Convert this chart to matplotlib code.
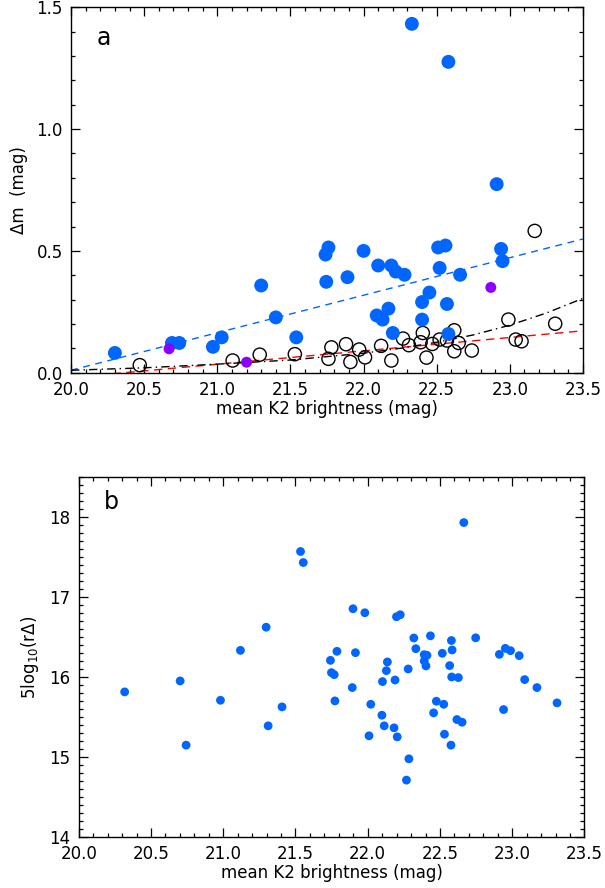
import matplotlib
matplotlib.use("Agg")
import matplotlib.pyplot as plt
from matplotlib.ticker import MultipleLocator, FormatStrFormatter

# ---------------- data: panel a ----------------
blue_x = [20.30, 20.69, 20.74, 20.97, 21.03, 21.30, 21.40, 21.54, 21.74, 21.76,
          21.745, 21.89, 22.00, 22.10, 22.09, 22.13, 22.17, 22.19, 22.22, 22.28,
          22.20, 22.40, 22.40, 22.45, 22.51, 22.56, 22.52, 22.57, 22.58, 22.66,
          22.94, 22.95, 22.91, 22.33, 22.58]
blue_y = [0.081, 0.122, 0.122, 0.106, 0.145, 0.358, 0.227, 0.145, 0.485, 0.514,
          0.373, 0.392, 0.500, 0.440, 0.235, 0.218, 0.263, 0.440, 0.415, 0.402,
          0.163, 0.218, 0.290, 0.329, 0.514, 0.522, 0.430, 0.282, 0.159, 0.402,
          0.508, 0.458, 0.774, 1.432, 1.276]

purple_x = [20.67, 21.20, 22.87]
purple_y = [0.098, 0.043, 0.350]

open_x = [20.47, 21.105, 21.29, 21.53, 21.76, 21.78, 21.88, 21.91, 21.97, 22.01,
          22.12, 22.19, 22.27, 22.31, 22.39, 22.405, 22.43, 22.47, 22.52, 22.57,
          22.62, 22.62, 22.65, 22.74, 22.99, 23.04, 23.08, 23.17, 23.31]
open_y = [0.031, 0.050, 0.074, 0.076, 0.057, 0.104, 0.117, 0.044, 0.095, 0.063,
          0.110, 0.050, 0.140, 0.113, 0.125, 0.163, 0.062, 0.118, 0.136, 0.132,
          0.174, 0.088, 0.122, 0.091, 0.218, 0.136, 0.129, 0.582, 0.201]

# reference curves
blue_line_x = [20.0, 23.5]
blue_line_y = [0.010, 0.549]
red_line_x = [20.0, 23.5]
red_line_y = [-0.020, 0.172]
black_line_x = [20.0, 20.5, 21.0, 21.5, 22.0, 22.25, 22.5, 22.75, 23.0, 23.25, 23.5]
black_line_y = [0.010, 0.020, 0.035, 0.052, 0.080, 0.100, 0.125, 0.155, 0.195, 0.245, 0.305]

# ---------------- data: panel b ----------------
b_x = [22.665, 21.535, 21.554, 21.898, 21.980, 22.199, 22.225,
       21.297, 22.319, 22.434, 22.747, 22.579, 21.119, 21.787, 21.915, 22.333,
       22.391, 22.410, 22.516, 22.584, 22.911, 22.952, 22.988, 23.048, 21.742,
       22.136, 22.391, 22.403, 22.567, 22.280, 22.129, 21.749, 21.768, 22.581,
       22.627, 20.702, 22.102, 22.189, 23.086, 23.171, 21.893, 20.318, 20.981,
       21.773, 22.475, 22.526, 22.021, 23.310, 21.407, 22.940, 22.456, 22.098,
       22.617, 22.653, 21.311, 22.114, 22.182, 22.531, 22.009, 22.204, 20.743,
       22.576, 22.285, 22.268]
b_y = [17.933, 17.571, 17.433, 16.854, 16.804, 16.754, 16.779,
       16.623, 16.488, 16.515, 16.490, 16.456, 16.333, 16.321, 16.304, 16.354,
       16.279, 16.271, 16.296, 16.338, 16.283, 16.358, 16.329, 16.267, 16.208,
       16.188, 16.200, 16.138, 16.142, 16.100, 16.079, 16.054, 16.029, 16.000,
       15.992, 15.950, 15.942, 15.962, 15.967, 15.867, 15.867, 15.813, 15.708,
       15.700, 15.696, 15.658, 15.658, 15.675, 15.625, 15.592, 15.550, 15.521,
       15.467, 15.433, 15.388, 15.388, 15.363, 15.283, 15.263, 15.250, 15.146,
       15.146, 14.975, 14.708]

xticks = [20.0, 20.5, 21.0, 21.5, 22.0, 22.5, 23.0, 23.5]
a_yticks = [0.0, 0.5, 1.0, 1.5]
b_yticks = [14, 15, 16, 17, 18]

BLUE = "#0066ff"
PURPLE = "#8c00ff"

plt.rcParams['font.family'] = ['DejaVu Sans']
fig = plt.figure(figsize=(6.05, 8.88), dpi=100)

def style(ax):
    ax.tick_params(which='both', direction='in', top=True, right=True,
                   labelsize=12, width=0.9, pad=6)
    ax.tick_params(which='major', length=6.5)
    ax.tick_params(which='minor', length=3)
    for s in ax.spines.values():
        s.set_linewidth(1.0)
    ax.xaxis.set_minor_locator(MultipleLocator(0.1))
    ax.set_xlim(20.0, 23.5)
    ax.set_xticks(xticks)
    ax.xaxis.set_major_formatter(FormatStrFormatter('%.1f'))
    ax.set_xlabel('mean K2 brightness (mag)', fontsize=12, labelpad=1)

# Panel a
ax1 = fig.add_axes([0.1174, 0.5803, 0.8462, 0.4115])
style(ax1)
ax1.set_ylim(0.0, 1.5)
ax1.set_yticks(a_yticks)
ax1.yaxis.set_major_formatter(FormatStrFormatter('%.1f'))
ax1.yaxis.set_minor_locator(MultipleLocator(0.1))
ax1.set_ylabel('Δm  (mag)', fontsize=12, labelpad=6)
ax1.plot(blue_line_x, blue_line_y, color=BLUE, ls=(0, (5, 4)), lw=1.0, zorder=2)
ax1.plot(red_line_x, red_line_y, color='red', ls=(0, (6, 4)), lw=1.0, zorder=2)
ax1.plot(black_line_x, black_line_y, color='black', ls=(0, (6, 3, 1, 3)), lw=1.0, zorder=2)
ax1.scatter(open_x, open_y, s=90, facecolors='none', edgecolors='black', linewidths=1.0, zorder=3)
ax1.scatter(blue_x, blue_y, s=100, color=BLUE, edgecolors='none', zorder=4)
ax1.scatter(purple_x, purple_y, s=62, color=PURPLE, edgecolors='none', zorder=5)
ax1.text(0.05, 0.915, 'a', transform=ax1.transAxes, fontsize=17, ha='left', va='center')

# Panel b
ax2 = fig.add_axes([0.1301, 0.0578, 0.8360, 0.4047])
style(ax2)
ax2.set_ylim(14.0, 18.5)
ax2.set_yticks(b_yticks)
ax2.yaxis.set_minor_locator(MultipleLocator(0.1))
ax2.set_ylabel(r'5log$_{10}$(rΔ)', fontsize=12, labelpad=6)
ax2.scatter(b_x, b_y, s=40, color=BLUE, edgecolors='none', zorder=3)
ax2.text(0.05, 0.93, 'b', transform=ax2.transAxes, fontsize=17, ha='left', va='center')

fig.savefig('out.png', dpi=100)
